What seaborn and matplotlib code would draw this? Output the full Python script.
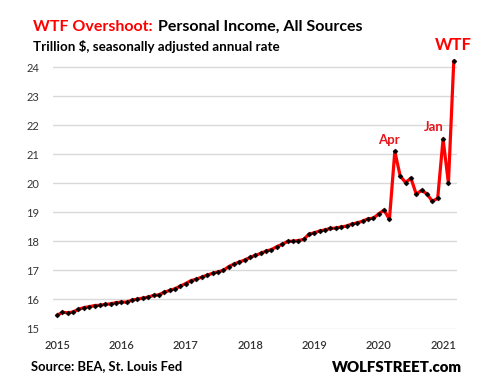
import numpy as np
import pandas as pd
import matplotlib
matplotlib.use("Agg")
import matplotlib.pyplot as plt
import seaborn as sns

# Monthly personal income, trillion $, SAAR, Jan 2015 .. Mar 2021
income = [
    15.45, 15.56, 15.54, 15.57, 15.66, 15.72, 15.75, 15.79, 15.80, 15.83, 15.85, 15.89,  # 2015
    15.91, 15.91, 15.98, 16.01, 16.05, 16.08, 16.14, 16.16, 16.25, 16.31, 16.37, 16.46,  # 2016
    16.55, 16.65, 16.70, 16.77, 16.84, 16.90, 16.95, 17.00, 17.13, 17.22, 17.29, 17.36,  # 2017
    17.45, 17.52, 17.59, 17.67, 17.72, 17.82, 17.90, 18.00, 18.01, 18.03, 18.07, 18.25,  # 2018
    18.30, 18.36, 18.40, 18.45, 18.46, 18.50, 18.53, 18.60, 18.64, 18.70, 18.78, 18.80,  # 2019
    18.95, 19.08, 18.76, 21.10, 20.26, 20.03, 20.18, 19.63, 19.76, 19.64, 19.38, 19.49,  # 2020
    21.53, 20.01, 24.22,                                                                  # 2021
]
year_labels = ["2015", "2016", "2017", "2018", "2019", "2020", "2021"]
y_ticks = [15, 16, 17, 18, 19, 20, 21, 22, 23, 24]
callouts = ["Apr", "Jan", "WTF"]
callout_months = [63, 72, 74]

df = pd.DataFrame({"month": np.arange(len(income)), "income": income})

sns.set_theme(style="white")
plt.rcParams["font.family"] = ["Lato", "DejaVu Sans"]

W, H = 485, 388
fig = plt.figure(figsize=(W / 100, H / 100), dpi=100)
ax = fig.add_axes([53 / W, 1 - 328.5 / H, 404 / W, (328.5 - 58.6) / H])

sns.lineplot(data=df, x="month", y="income", ax=ax, color="#ff0000", linewidth=2.3,
             marker="D", markersize=2.6, markerfacecolor="black", markeredgecolor="black",
             markeredgewidth=0.3, zorder=3)

ax.set_xlim(-0.75, 74.6)
ax.set_ylim(15, 24.3)
ax.set_yticks(y_ticks)
ax.set_yticklabels([str(t) for t in y_ticks], fontsize=8, color="#333333")
ax.set_xticks(np.arange(len(year_labels)) * 12)
ax.set_xticklabels(year_labels, fontsize=8, color="#333333", fontweight="semibold")
ax.tick_params(axis="y", length=0, pad=10)
ax.tick_params(axis="x", length=0, pad=8)
ax.set_xlabel("")
ax.set_ylabel("")
for s in ax.spines.values():
    s.set_visible(False)
ax.grid(axis="y", color="#d9d9d9", linewidth=1.0, zorder=0)
ax.grid(axis="x", visible=False)

# Callouts
offsets = {"Apr": (-4, 4), "Jan": (-7, 4), "WTF": (0, 6)}
sizes = {"Apr": 9.5, "Jan": 9.5, "WTF": 12}
for lab, m in zip(callouts, callout_months):
    ax.annotate(lab, xy=(m, income[m]), xytext=offsets[lab], textcoords="offset points",
                ha="center", va="bottom", color="#ff0000" if lab == "WTF" else "#e8141b",
                fontsize=sizes[lab], fontweight="bold")

# Title
t1 = fig.text(33 / W, 1 - 31 / H, "WTF Overshoot:", color="#ff0000", fontsize=11.5,
              fontweight="bold", ha="left", va="baseline")
ax.annotate("Personal Income, All Sources", xy=(1, 0), xycoords=t1, xytext=(4, 0),
            textcoords="offset points", ha="left", va="bottom", color="black",
            fontsize=11.5, fontweight="bold")
fig.text(33 / W, 1 - 51 / H, "Trillion $, seasonally adjusted annual rate", color="black",
         fontsize=9.6, fontweight="bold", ha="left", va="baseline")

# Footer
fig.text(31 / W, 1 - 366 / H, "Source: BEA, St. Louis Fed", color="black", fontsize=9.4,
         fontweight="bold", ha="left", va="center")
fig.text(462 / W, 1 - 367 / H, "WOLFSTREET.com", color="black", fontsize=10.8,
         fontweight="heavy", ha="right", va="center")

fig.savefig("out.png", dpi=100)
